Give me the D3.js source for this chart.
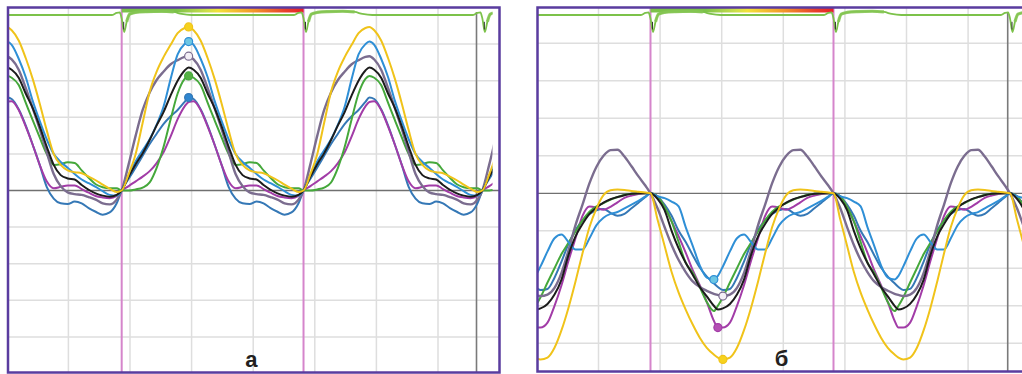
<!DOCTYPE html>
<html>
<head>
<meta charset="utf-8">
<script src="https://cdn.jsdelivr.net/npm/d3@7"></script>
<style>
  body { margin: 0; background: #fff; }
  svg { display: block; }
</style>
</head>
<body>
<svg id="chart" width="1022" height="374"></svg>
<script>
// one cardiac cycle, phase in px of a 182 px cycle
const phase = [0, 7, 14, 21, 28, 35, 42, 49, 56, 63, 67, 72, 79, 86, 93, 100, 107, 114, 121, 128, 135, 142, 149, 156, 163, 170, 177, 182];
const cyclePx = 182;

// panel а (values in grid divisions)
const aYellow = [0, 0.45, 1.0, 1.85, 2.7, 3.25, 3.65, 3.98, 4.3, 4.44, 4.47, 4.38, 4.1, 3.62, 3.05, 2.38, 1.65, 1.0, 0.7, 0.55, 0.5, 0.47, 0.38, 0.28, 0.16, 0.05, -0.04, 0];
const aBlue = [0, 0.42, 0.8, 1.1, 1.4, 1.8, 2.3, 3.05, 3.72, 4.0, 4.07, 3.98, 3.6, 3.1, 2.45, 1.9, 1.4, 1.0, 0.78, 0.62, 0.45, 0.3, 0.2, 0.1, -0.02, -0.12, -0.14, 0];
const aSteel = [0, 0.32, 0.63, 0.95, 1.27, 1.55, 1.82, 2.03, 2.2, 2.42, 2.54, 2.5, 2.22, 1.78, 1.25, 0.7, 0.1, -0.22, -0.35, -0.37, -0.3, -0.35, -0.48, -0.58, -0.66, -0.6, -0.35, 0];
const aGrey = [0, 0.72, 1.5, 2.2, 2.68, 3.02, 3.25, 3.45, 3.56, 3.65, 3.67, 3.58, 3.3, 2.8, 2.25, 1.68, 1.05, 0.45, 0.12, -0.05, -0.1, -0.12, -0.18, -0.25, -0.35, -0.38, -0.25, 0];
const aBlack = [0, 0.38, 0.72, 1.02, 1.38, 1.78, 2.15, 2.6, 3.0, 3.28, 3.36, 3.3, 3.08, 2.65, 2.25, 1.75, 1.2, 0.7, 0.42, 0.33, 0.3, 0.15, 0.02, -0.08, -0.14, -0.17, -0.12, 0];
const aGreen = [0, 0.0, 0.03, 0.08, 0.22, 0.62, 1.2, 1.95, 2.65, 3.05, 3.13, 3.08, 2.88, 2.4, 1.92, 1.45, 1.0, 0.7, 0.72, 0.77, 0.75, 0.55, 0.35, 0.17, 0.09, 0.06, 0.06, 0];
const aPurple = [0, 0.12, 0.25, 0.38, 0.53, 0.75, 1.05, 1.48, 1.95, 2.3, 2.42, 2.44, 2.2, 1.75, 1.25, 0.7, 0.25, 0.06, 0.1, 0.14, 0.14, 0.04, -0.06, -0.15, -0.19, -0.21, -0.15, 0];

// panel б
const bYellow = [0, -0.7, -1.4, -2.1, -2.65, -3.1, -3.5, -3.85, -4.12, -4.3, -4.38, -4.43, -4.38, -4.12, -3.65, -3.05, -2.35, -1.6, -0.9, -0.4, -0.05, 0.08, 0.1, 0.09, 0.06, 0.04, 0.02, 0];
const bBlue = [0, -0.08, -0.13, -0.22, -0.35, -0.9, -1.4, -1.92, -2.25, -2.3, -2.2, -1.95, -1.55, -1.2, -1.1, -1.3, -1.5, -1.5, -1.2, -0.85, -0.65, -0.55, -0.5, -0.4, -0.3, -0.2, -0.08, 0];
const bSteel = [0, -0.1, -0.3, -0.6, -1.0, -1.3, -1.65, -1.98, -2.22, -2.4, -2.5, -2.58, -2.55, -2.25, -1.82, -1.35, -0.98, -0.72, -0.55, -0.45, -0.42, -0.52, -0.6, -0.55, -0.4, -0.25, -0.1, 0];
const bGrey = [0, -0.4, -0.9, -1.38, -1.78, -2.1, -2.35, -2.5, -2.6, -2.68, -2.71, -2.74, -2.7, -2.52, -2.12, -1.52, -0.85, -0.3, 0.27, 0.71, 1.0, 1.15, 1.16, 0.98, 0.72, 0.45, 0.2, 0];
const bBlack = [0, -0.15, -0.45, -1.0, -1.47, -1.85, -2.17, -2.5, -2.75, -3.0, -3.1, -3.07, -2.95, -2.7, -2.3, -1.65, -1.15, -0.82, -0.55, -0.38, -0.25, -0.16, -0.1, -0.05, -0.01, 0, 0, 0];
const bGreen = [0, -0.08, -0.36, -0.75, -1.3, -1.85, -2.12, -2.5, -2.9, -3.14, -3.0, -2.77, -2.38, -2.0, -1.62, -1.32, -1.02, -0.72, -0.49, -0.35, -0.26, -0.17, -0.1, -0.04, -0.01, 0, 0, 0];
const bPurple = [0, -0.08, -0.36, -0.75, -1.15, -1.58, -2.05, -2.45, -2.9, -3.4, -3.58, -3.58, -3.45, -3.0, -2.45, -1.8, -1.2, -0.6, -0.35, -0.38, -0.44, -0.36, -0.24, -0.12, -0.06, -0.02, 0, 0];

// top monitoring trace, one cycle
const tracePhase = [0, 2.5, 5, 8, 14, 25, 40, 52, 60, 70, 172, 177, 180, 182];
const traceValues = [-0.2, -1.0, -0.4, 0.05, 0.15, 0.2, 0.22, 0.18, 0.06, 0, 0, 0.12, 0.15, -0.2];
const traceBusy = [5, 58]; // noisy, thicker stretch of the trace

// cycle starts, end of record and marker line (grid divisions)
const startsA = [-1.089, 1.865, 4.817, 7.72];
const startsB = [-1.110, 1.844, 4.815, 7.680];
const endA = 7.885;
const endB = 9;
const darkLineA = 7.625;
const darkLineB = 7.643;

const seriesKeys = ['steel', 'purple', 'green', 'grey', 'blue', 'black', 'yellow'];
const seriesColors = {
  yellow: '#f0c31a', blue: '#2f8fd6', steel: '#3578b6', grey: '#7b6d8f',
  black: '#1c1c1c', green: '#45a83b', purple: '#a23ca7',
};
const markerFill = {
  yellow: '#f6d21e', blue: '#6cc6e4', steel: '#2f86d0', grey: '#f4eff6',
  green: '#55b244', purple: '#b44fb4',
};
const barStops = [[0, '#7cc24a'], [0.3, '#7cc24a'], [0.47, '#cfe04a'], [0.53, '#f3e23a'], [0.72, '#f39a2a'], [0.9, '#e8402c'], [1, '#e8202a']];

const gridStep = 61.6;
const cycleDiv = cyclePx / gridStep;

const panels = [
  {
    label: 'а', starts: startsA, end: endA, darkLine: darkLineA, sign: 1,
    values: { yellow: aYellow, blue: aBlue, steel: aSteel, grey: aGrey, black: aBlack, green: aGreen, purple: aPurple },
    markers: ['steel', 'green', 'grey', 'blue', 'yellow'],
    x0: 6.8, zeroY: 190.5, gy: 36.6, frame: [8, 7.5, 499.5, 372.5],
  },
  {
    label: 'б', starts: startsB, end: endB, darkLine: darkLineB, sign: -1,
    values: { yellow: bYellow, blue: bBlue, steel: bSteel, grey: bGrey, black: bBlack, green: bGreen, purple: bPurple },
    markers: ['grey', 'blue', 'purple', 'yellow'],
    x0: 536.9, zeroY: 193.3, gy: 37.5, frame: [537.5, 7.5, 1030, 371.5],
  },
];

const svg = d3.select('#chart');
const defs = svg.append('defs');
const grad = defs.append('linearGradient').attr('id', 'bar');
barStops.forEach(([o, c]) => grad.append('stop').attr('offset', o).attr('stop-color', c));

const traceY = d3.scaleLinear().domain([-1, 0.2]).range([32, 11.6]);

panels.forEach((panel, idx) => {
  const x = d3.scaleLinear().domain([0, 8]).range([panel.x0, panel.x0 + 8 * gridStep]);
  const y = d3.scaleLinear().domain([-5, 5]).range([panel.zeroY + 5 * panel.gy, panel.zeroY - 5 * panel.gy]);
  const [fx0, fy0, fx1, fy1] = panel.frame;
  const dataRight = Math.min(fx1, x(panel.end));

  const clipId = 'clip' + idx;
  defs.append('clipPath').attr('id', clipId)
    .append('rect').attr('x', fx0).attr('y', fy0).attr('width', fx1 - fx0).attr('height', fy1 - fy0);
  defs.append('clipPath').attr('id', clipId + 'd')
    .append('rect').attr('x', fx0).attr('y', fy0).attr('width', dataRight - fx0).attr('height', fy1 - fy0);

  const g = svg.append('g').attr('clip-path', `url(#${clipId})`);
  g.append('rect').attr('x', fx0).attr('y', fy0).attr('width', fx1 - fx0).attr('height', fy1 - fy0).attr('fill', '#fff');

  // grid
  g.selectAll('.vgrid').data(d3.range(1, 9)).join('line')
    .attr('x1', (d) => x(d)).attr('x2', (d) => x(d)).attr('y1', fy0).attr('y2', fy1)
    .attr('stroke', '#dedede').attr('stroke-width', 1.5);
  g.selectAll('.hgrid').data(d3.range(-5, 6).filter((d) => d !== 0)).join('line')
    .attr('x1', fx0).attr('x2', fx1).attr('y1', (d) => y(d)).attr('y2', (d) => y(d))
    .attr('stroke', '#dedede').attr('stroke-width', 1.5);
  g.append('line').attr('x1', fx0).attr('x2', fx1).attr('y1', y(0)).attr('y2', y(0))
    .attr('stroke', '#707070').attr('stroke-width', 1.3);

  const cycles = panel.starts.map((s, i) => ({
    start: s,
    dur: i < panel.starts.length - 1 ? panel.starts[i + 1] - s : cycleDiv,
  }));
  const toPoints = (ph, vals) => cycles.flatMap((c, ci) => {
    const p = ph.map((t, i) => [c.start + (t / cyclePx) * c.dur, vals[i], t]);
    return ci < cycles.length - 1 ? p.slice(0, -1) : p;
  });

  // cycle markers
  g.selectAll('.pink').data(cycles.slice(1, 3)).join('line')
    .attr('x1', (c) => x(c.start)).attr('x2', (c) => x(c.start)).attr('y1', fy0).attr('y2', fy1)
    .attr('stroke', '#d585cb').attr('stroke-width', 2);
  g.append('line').attr('x1', x(panel.darkLine)).attr('x2', x(panel.darkLine))
    .attr('y1', 12).attr('y2', fy1).attr('stroke', '#7a7a7a').attr('stroke-width', 1.6);

  // gradient bar over the middle cycle
  g.append('rect').attr('x', x(cycles[1].start)).attr('y', fy0 + 0.5)
    .attr('width', x(cycles[2].start) - x(cycles[1].start)).attr('height', 4.5)
    .attr('fill', 'url(#bar)');

  const dg = g.append('g').attr('clip-path', `url(#${clipId}d)`);

  // top trace
  const traceLine = d3.line().x((d) => x(d[0])).y((d) => traceY(d[1])).curve(d3.curveMonotoneX);
  const tracePts = toPoints(tracePhase, traceValues);
  dg.append('path').attr('d', traceLine(tracePts))
    .attr('fill', 'none').attr('stroke', '#7cc24a').attr('stroke-width', 1.8);
  cycles.forEach((c) => {
    const busy = tracePts.filter((d) => d[0] >= c.start && d[0] < c.start + c.dur && d[2] >= traceBusy[0] && d[2] <= traceBusy[1]);
    dg.append('path').attr('d', traceLine(busy))
      .attr('fill', 'none').attr('stroke', '#86c653').attr('stroke-width', 3.2).attr('opacity', 0.85);
  });
  dg.selectAll('.tick-mark').data(cycles).join('line')
    .attr('x1', (c) => x(c.start + (2 / cyclePx) * c.dur)).attr('x2', (c) => x(c.start + (2 / cyclePx) * c.dur))
    .attr('y1', traceY(-0.4)).attr('y2', traceY(-0.85))
    .attr('stroke', '#333').attr('stroke-width', 1);

  // curves
  const line = d3.line().x((d) => x(d[0])).y((d) => y(d[1])).curve(d3.curveMonotoneX);
  seriesKeys.forEach((key) => {
    dg.append('path').attr('d', line(toPoints(phase, panel.values[key])))
      .attr('fill', 'none').attr('stroke', seriesColors[key])
      .attr('stroke-width', key === 'grey' ? 2.4 : 2).attr('stroke-linejoin', 'round');
  });

  // peak markers on the middle cycle
  panel.markers.forEach((key) => {
    const vals = panel.values[key];
    const i = panel.sign > 0 ? d3.maxIndex(vals) : d3.minIndex(vals);
    const c = cycles[1];
    g.append('circle')
      .attr('cx', x(c.start + (phase[i] / cyclePx) * c.dur)).attr('cy', y(vals[i])).attr('r', 4)
      .attr('fill', markerFill[key]).attr('stroke', seriesColors[key]).attr('stroke-width', 1.2);
  });

  // frame
  svg.append('rect').attr('x', fx0).attr('y', fy0).attr('width', fx1 - fx0).attr('height', fy1 - fy0)
    .attr('fill', 'none').attr('stroke', '#5a3c9f').attr('stroke-width', 2.5);

  svg.append('text').text(panel.label)
    .attr('x', x(3.97)).attr('y', fy1 - 6)
    .attr('text-anchor', 'middle')
    .attr('font-family', '"Liberation Sans", Arial, sans-serif')
    .attr('font-weight', 'bold').attr('font-size', 22).attr('fill', '#231f20');
});
</script>
</body>
</html>
